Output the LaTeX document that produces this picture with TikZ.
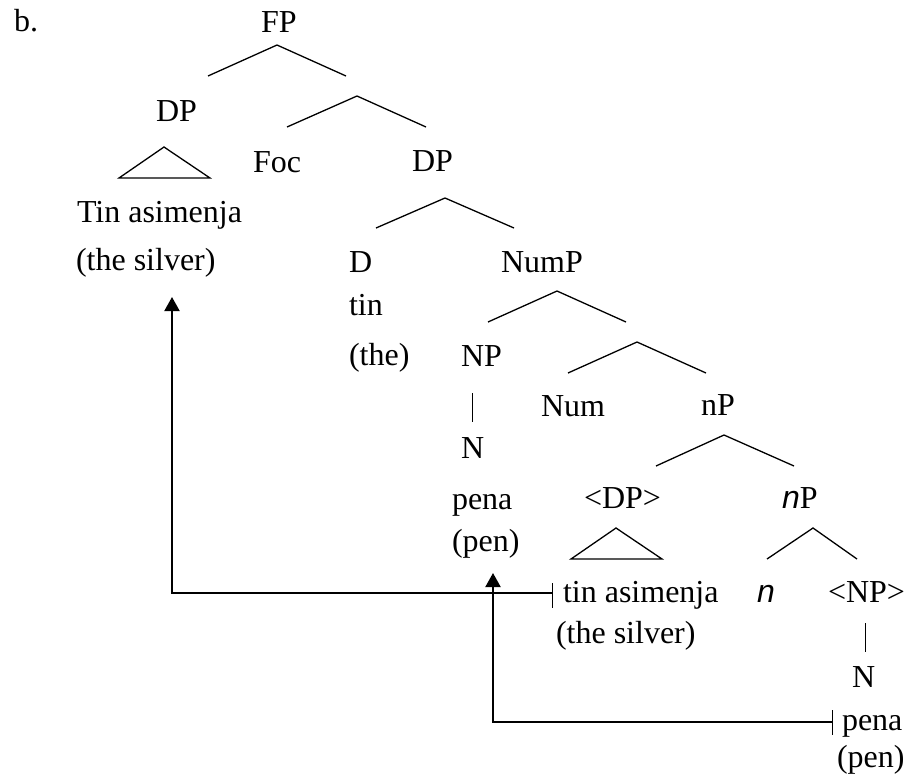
\documentclass[tikz,border=0pt]{standalone}
\usepackage{fontspec}
\setmainfont{Liberation Serif}
\newfontfamily\sansfam{Liberation Sans}
\usetikzlibrary{arrows.meta}
\begin{document}
\begin{tikzpicture}[x=1pt,y=-1pt,
  lbl/.style={anchor=base west,inner sep=0pt,outer sep=0pt,font=\fontsize{32}{37}\selectfont},
  branch/.style={line width=1.3pt,line join=miter},
  bar/.style={line width=1pt},
  mv/.style={line width=2pt,-{Triangle[width=15pt,length=14pt]}},
  tick/.style={line width=1pt}]
\useasboundingbox (0,0) rectangle (909,780);
% labels
\node[lbl] (b) at (14,31) {b.};
\node[lbl] (FP) at (261,32) {FP};
\node[lbl] (DPa) at (156,121) {DP};
\node[lbl] (Foc) at (253,172) {Foc};
\node[lbl] (DPb) at (412,171) {DP};
\node[lbl] (tinA) at (77,222) {Tin asimenja};
\node[lbl] (silA) at (76,270) {(the silver)};
\node[lbl] (D) at (349,272) {D};
\node[lbl] (NumP) at (501,272) {NumP};
\node[lbl] (tin) at (349,315) {tin};
\node[lbl] (the) at (349,365) {(the)};
\node[lbl] (NP) at (461,366) {NP};
\node[lbl] (Num) at (541,416) {Num};
\node[lbl] (nPa) at (701,415) {nP};
\node[lbl] (Na) at (461,458) {N};
\node[lbl] (penaA) at (452,509) {pena};
\node[lbl] (DPc) at (584,508) {<DP>};
\node[lbl] (nPb) at (782,508) {{\sansfam\itshape n}P};
\node[lbl] (penA) at (452,551) {(pen)};
\node[lbl] (tinB) at (563,602) {tin asimenja};
\node[lbl] (nn) at (757,602) {\sansfam\itshape n};
\node[lbl] (NPb) at (828,602) {<NP>};
\node[lbl] (silB) at (556,643) {(the silver)};
\node[lbl] (Nb) at (852,687) {N};
\node[lbl] (penaB) at (842,730) {pena};
\node[lbl] (penB) at (837,767) {(pen)};
% branches
\draw[branch] (208,76) -- (277,45) -- (346,76);
\draw[branch] (287,127) -- (357,96) -- (426,127);
\draw[branch] (119,178) -- (164,147) -- (210,178) -- cycle;
\draw[branch] (376,228) -- (445,198) -- (514,228);
\draw[branch] (488,322) -- (557,291) -- (626,322);
\draw[branch] (568,373) -- (637,342) -- (706,373);
\draw[branch] (656,466) -- (724,435) -- (794,466);
\draw[branch] (571,559) -- (616,528) -- (662,559) -- cycle;
\draw[branch] (767,559) -- (813,528) -- (857,559);
\draw[bar] (472,393) -- (472,422);
\draw[bar] (865,623) -- (865,652);
% movement arrows
\coordinate (tickA) at (552,593);
\coordinate (tipA) at (172,297);
\coordinate (tickB) at (832,722);
\coordinate (tipB) at (493,573);
\draw[tick] (552,583) -- (552,608);
\draw[tick] (832,710) -- (832,735);
\draw[mv] (tickA) -| (tipA);
\draw[mv] (tickB) -| (tipB);
\end{tikzpicture}
\end{document}
